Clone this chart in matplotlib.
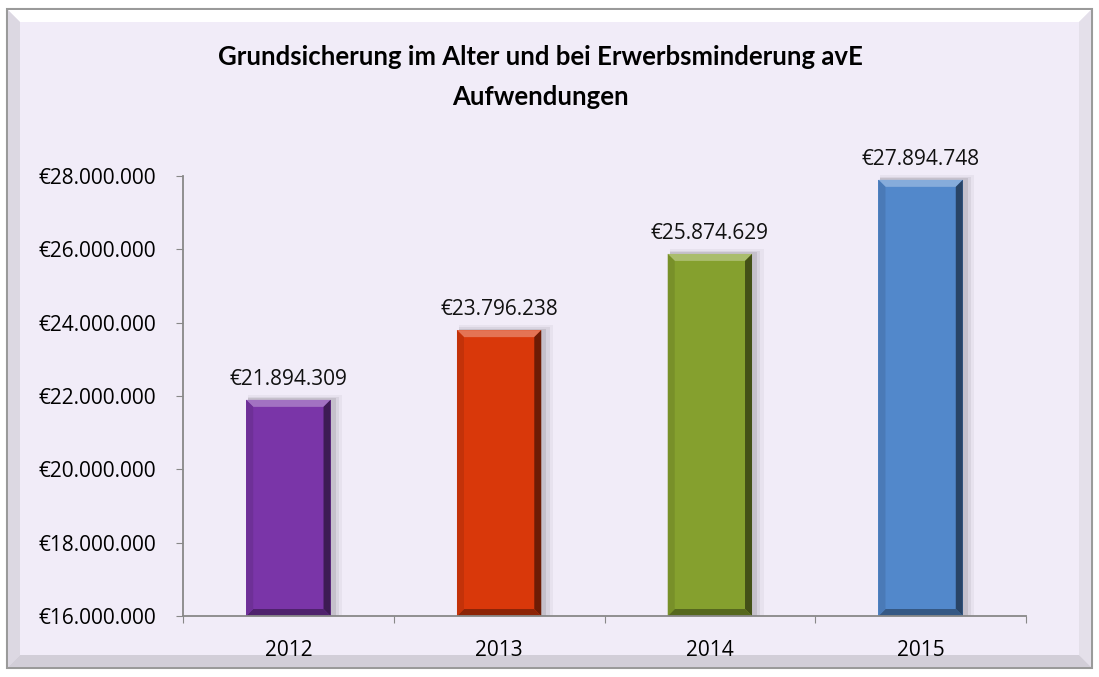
import matplotlib
matplotlib.use("Agg")
import matplotlib.pyplot as plt
from matplotlib.patches import Polygon, Rectangle
import matplotlib.ticker as tkr
import numpy as np

years = ["2012", "2013", "2014", "2015"]
values = [21894309, 23796238, 25874629, 27894748]
bar_colors = ["#7A35A8", "#D9380A", "#85A02E", "#5288CB"]
title_lines = ["Grundsicherung im Alter und bei Erwerbsminderung avE", "Aufwendungen"]


def euro(x, pos=None):
    return "€" + "{:,.0f}".format(x).replace(",", ".")


def shade(c, f):
    rgb = np.array(matplotlib.colors.to_rgb(c))
    if f < 1:
        return tuple(rgb * f)
    return tuple(rgb + (1 - rgb) * (f - 1))


plt.rcParams['font.family'] = ['Open Sans', 'DejaVu Sans']
fig = plt.figure(figsize=(10.99, 6.77), dpi=100)
bg = "#F1ECF8"
fig.patch.set_facecolor("white")

# outer frame with a bevelled edge
fw, fh = 1099.0, 677.0
frame = Rectangle((7 / fw, 9 / fh), 1085 / fw, 659 / fh, transform=fig.transFigure,
                  facecolor=bg, edgecolor="#9A9A9A", linewidth=1.5, zorder=0)
fig.patches.append(frame)
b = 12
ox0, oy0, ox1, oy1 = 8, 10, 1091, 667
def fpoly(pts, col):
    fig.patches.append(Polygon([(x / fw, 1 - y / fh) for x, y in pts], closed=True,
                               transform=fig.transFigure, facecolor=col, edgecolor="none", zorder=0.5))
fpoly([(ox0, oy0), (ox1, oy0), (ox1 - b, oy0 + b), (ox0 + b, oy0 + b)], "#FFFFFF")
fpoly([(ox0, oy0), (ox0 + b, oy0 + b), (ox0 + b, oy1 - b), (ox0, oy1)], "#DCD8E2")
fpoly([(ox1, oy0), (ox1, oy1), (ox1 - b, oy1 - b), (ox1 - b, oy0 + b)], "#E4E0EA")
fpoly([(ox0, oy1), (ox1, oy1), (ox1 - b, oy1 - b), (ox0 + b, oy1 - b)], "#D2CED8")

ax = fig.add_axes([183 / fw, 1 - 616 / fh, (1026 - 183) / fw, (616 - 176) / fh])
ax.set_zorder(5)
ax.set_facecolor("none")
x = np.arange(len(years))
bw = 0.4
ax.set_xlim(-0.5, 3.5)
ax.set_ylim(16000000, 28000000)
ybase = 16000000

# pixel -> data conversion for bevel sizes
px_x = 1.0 / ((1026 - 183) / 4.0)
px_y = 12000000.0 / (616 - 176)

for xi, v, c in zip(x, values, bar_colors):
    l, r = xi - bw / 2, xi + bw / 2
    # soft shadow
    for k, a in [(12, 0.04), (8, 0.06), (4, 0.09)]:
        ax.add_patch(Rectangle((l + 2 * px_x, ybase), bw + k * px_x * 0.8, v - ybase + k * px_y * 0.4,
                               facecolor="black", alpha=a, edgecolor="none", zorder=1, clip_on=False))
    ax.bar(xi, v - ybase, bottom=ybase, width=bw, color=c, zorder=2)
    dx, dy = 7 * px_x, 7 * px_y
    ax.add_patch(Polygon([(l, v), (r, v), (r - dx, v - dy), (l + dx, v - dy)],
                         facecolor=shade(c, 1.3), edgecolor="none", zorder=3))
    ax.add_patch(Polygon([(r, v), (r, ybase), (r - dx, ybase + dy), (r - dx, v - dy)],
                         facecolor=shade(c, 0.5), edgecolor="none", zorder=3))
    ax.add_patch(Polygon([(l, ybase), (r, ybase), (r - dx, ybase + dy), (l + dx, ybase + dy)],
                         facecolor=shade(c, 0.65), edgecolor="none", zorder=3))
    ax.add_patch(Polygon([(l, v), (l + dx, v - dy), (l + dx, ybase + dy), (l, ybase)],
                         facecolor=shade(c, 0.9), edgecolor="none", zorder=3))
    ax.text(xi, v + 10 * px_y, euro(v), ha="center", va="bottom", fontsize=15, color="#111111",
            zorder=4, clip_on=False)

ax.yaxis.set_major_locator(tkr.MultipleLocator(2000000))
ax.yaxis.set_major_formatter(tkr.FuncFormatter(euro))
ax.set_xticks([-0.5, 0.5, 1.5, 2.5, 3.5])
ax.set_xticklabels([])
ax.set_xticks(x, minor=True)
ax.set_xticklabels(years, minor=True)
ax.tick_params(axis="x", which="minor", length=0, pad=17, labelsize=15)
ax.tick_params(axis="x", which="major", length=5, direction="out", color="#888888")
ax.tick_params(axis="y", length=5, direction="out", color="#888888", labelsize=15, pad=14)
for s in ["top", "right"]:
    ax.spines[s].set_visible(False)
for s in ["left", "bottom"]:
    ax.spines[s].set_color("#888888")
    ax.spines[s].set_linewidth(1.3)
    ax.spines[s].set_zorder(5)

fig.text(540 / fw, 1 - 57 / fh, title_lines[0], ha="center", va="center", fontsize=18.5,
         fontweight="bold", family=["Lato", "DejaVu Sans"])
fig.text(540 / fw, 1 - 97 / fh, title_lines[1], ha="center", va="center", fontsize=18.5,
         fontweight="bold", family=["Lato", "DejaVu Sans"])

fig.savefig("out.png", dpi=100, facecolor=fig.get_facecolor())
